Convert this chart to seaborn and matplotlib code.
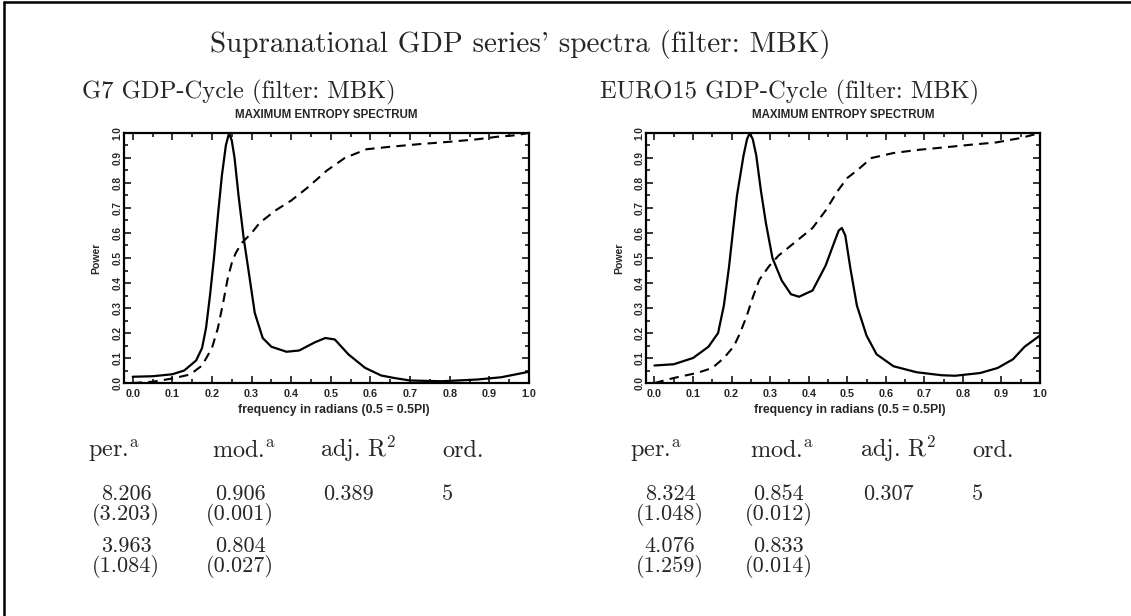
import numpy as np
import pandas as pd
import seaborn as sns
import matplotlib
matplotlib.use("Agg")
from matplotlib import pyplot as plt
from matplotlib.lines import Line2D
from matplotlib.ticker import MultipleLocator, FormatStrFormatter

# Spectrum G7 (linha cheia) e espectro acumulado (tracejado)
g7_freq = [0.0, 0.05, 0.10, 0.13, 0.16, 0.175, 0.185, 0.195, 0.205, 0.215, 0.225, 0.235, 0.243,
           0.25, 0.257, 0.267, 0.28, 0.295, 0.308, 0.328, 0.35, 0.388, 0.42, 0.46, 0.486, 0.51,
           0.544, 0.586, 0.627, 0.66, 0.70, 0.78, 0.87, 0.93, 1.0]
g7_power = [0.025, 0.027, 0.035, 0.05, 0.09, 0.14, 0.22, 0.35, 0.5, 0.67, 0.83, 0.95, 1.0,
            0.97, 0.9, 0.75, 0.58, 0.42, 0.28, 0.18, 0.145, 0.125, 0.13, 0.163, 0.18, 0.174,
            0.115, 0.061, 0.03, 0.02, 0.01, 0.007, 0.014, 0.023, 0.045]
g7_cum_freq = [0.0, 0.05, 0.10, 0.145, 0.175, 0.20, 0.215, 0.228, 0.24, 0.25, 0.26, 0.275, 0.30,
               0.32, 0.36, 0.40, 0.44, 0.49, 0.535, 0.59, 0.65, 0.72, 0.80, 0.87, 0.92, 0.96, 1.0]
g7_cum = [0.0, 0.005, 0.018, 0.034, 0.07, 0.14, 0.22, 0.32, 0.42, 0.48, 0.52, 0.56, 0.60,
          0.64, 0.69, 0.73, 0.78, 0.85, 0.90, 0.935, 0.945, 0.955, 0.965, 0.975, 0.985, 0.99, 1.0]

# Spectrum EURO15
eu_freq = [0.0, 0.05, 0.10, 0.14, 0.165, 0.18, 0.193, 0.203, 0.214, 0.231, 0.24, 0.247, 0.255,
           0.264, 0.276, 0.289, 0.306, 0.33, 0.354, 0.375, 0.41, 0.444, 0.468, 0.478, 0.486,
           0.495, 0.508, 0.525, 0.55, 0.576, 0.62, 0.68, 0.745, 0.78, 0.845, 0.89, 0.93, 0.96, 1.0]
eu_power = [0.07, 0.075, 0.10, 0.145, 0.2, 0.31, 0.46, 0.6, 0.75, 0.91, 0.975, 1.0, 0.975,
            0.91, 0.77, 0.64, 0.5, 0.41, 0.355, 0.345, 0.37, 0.47, 0.57, 0.61, 0.62,
            0.59, 0.46, 0.31, 0.19, 0.115, 0.067, 0.043, 0.031, 0.029, 0.04, 0.06, 0.095, 0.145, 0.19]
eu_cum_freq = [0.0, 0.05, 0.11, 0.15, 0.18, 0.206, 0.222, 0.239, 0.256, 0.272, 0.297, 0.322, 0.354,
               0.378, 0.41, 0.444, 0.476, 0.50, 0.525, 0.563, 0.62, 0.687, 0.755, 0.82, 0.885, 0.95, 1.0]
eu_cum = [0.0, 0.02, 0.04, 0.06, 0.10, 0.147, 0.2, 0.267, 0.347, 0.413, 0.467, 0.51, 0.55,
          0.58, 0.62, 0.69, 0.77, 0.82, 0.85, 0.9, 0.92, 0.933, 0.943, 0.953, 0.962, 0.98, 1.0]

# Tabelas
cabecalho = [r"per.$^{\mathrm{a}}$", r"mod.$^{\mathrm{a}}$", r"adj. R$^2$", "ord."]
g7_per = ["8.206", "(3.203)", "3.963", "(1.084)"]
g7_mod = ["0.906", "(0.001)", "0.804", "(0.027)"]
g7_r2, g7_ord = "0.389", "5"
eu_per = ["8.324", "(1.048)", "4.076", "(1.259)"]
eu_mod = ["0.854", "(0.012)", "0.833", "(0.014)"]
eu_r2, eu_ord = "0.307", "5"

W, H = 1131, 616
sns.set_theme(style="ticks")
plt.rcParams["font.family"] = ["Liberation Sans", "DejaVu Sans"]
plt.rcParams["font.weight"] = "bold"
plt.rcParams["mathtext.fontset"] = "cm"
plt.rcParams["axes.unicode_minus"] = False

fig = plt.figure(figsize=(W / 100, H / 100), dpi=100)
fig.patch.set_facecolor("white")

def fx(x):
    return x / W

def fy(y):
    return 1 - y / H

serif = ["cmr10", "DejaVu Serif"]

def painel(left, right, freq, power, cfreq, cum, titulo, tx):
    ax = fig.add_axes([fx(left), fy(383), fx(right - left), (383 - 133) / H])
    sns.lineplot(x=freq, y=power, ax=ax, color="black", lw=1.6, sort=False)
    sns.lineplot(x=cfreq, y=cum, ax=ax, color="black", lw=1.5, sort=False,
                 linestyle=(0, (4.5, 3)))
    ax.set_xlim(-0.022, 1.0)
    ax.set_ylim(0, 1.0)
    ax.xaxis.set_major_locator(MultipleLocator(0.1))
    ax.xaxis.set_minor_locator(MultipleLocator(0.05))
    ax.yaxis.set_major_locator(MultipleLocator(0.1))
    ax.yaxis.set_minor_locator(MultipleLocator(0.05))
    ax.xaxis.set_major_formatter(FormatStrFormatter("%.1f"))
    ax.yaxis.set_major_formatter(FormatStrFormatter("%.1f"))
    ax.tick_params(which="both", direction="in", top=True, right=True, color="black", width=1.1)
    ax.tick_params(which="major", length=5)
    ax.tick_params(which="minor", length=3)
    ax.tick_params(axis="x", labelsize=7.8, pad=4)
    ax.tick_params(axis="y", labelsize=7.2, pad=1, labelrotation=90)
    for lab in ax.get_yticklabels():
        lab.set_va("center")
        lab.set_fontweight("bold")
    for lab in ax.get_xticklabels():
        lab.set_fontweight("bold")
    for s in ax.spines.values():
        s.set_linewidth(1.6)
        s.set_color("black")
    ax.set_facecolor("white")
    ax.set_xlabel("frequency in radians (0.5 = 0.5PI)", fontsize=8.8, fontweight="bold")
    ax.xaxis.set_label_coords(0.518, -0.086)
    ax.set_ylabel("Power", fontsize=7.6, fontweight="bold")
    ax.yaxis.set_label_coords(-0.056, 0.5)
    ax.set_title("MAXIMUM ENTROPY SPECTRUM", fontsize=8.3, fontweight="bold", pad=11)
    fig.text(fx(tx), fy(98), titulo, family=serif, fontsize=17.7, va="baseline", ha="left")
    return ax

painel(124, 529, g7_freq, g7_power, g7_cum_freq, g7_cum, "G7 GDP-Cycle (filter: MBK)", 82)
painel(646, 1040, eu_freq, eu_power, eu_cum_freq, eu_cum, "EURO15 GDP-Cycle (filter: MBK)", 600)

fig.text(fx(520), fy(52), "Supranational GDP series' spectra (filter: MBK)", family=serif,
         fontsize=21, ha="center", va="baseline")

def tabela(cols, per, mod, r2, ordem, c1, c2):
    base = [500, 520, 552, 572]
    for x, txt in zip(cols, cabecalho):
        fig.text(fx(x), fy(457), txt, family=serif, fontsize=17.5, ha="left", va="baseline")
    for y, a, b in zip(base, per, mod):
        fig.text(fx(c1), fy(y), a, family=serif, fontsize=16, ha="center", va="baseline")
        fig.text(fx(c2), fy(y), b, family=serif, fontsize=16, ha="center", va="baseline")
    fig.text(fx(cols[2] + 3), fy(500), r2, family=serif, fontsize=16, ha="left", va="baseline")
    fig.text(fx(cols[3]), fy(500), ordem, family=serif, fontsize=16, ha="left", va="baseline")

tabela([88, 212, 320, 442], g7_per, g7_mod, g7_r2, g7_ord, 126, 240)
tabela([630, 750, 860, 972], eu_per, eu_mod, eu_r2, eu_ord, 670, 779)

# moldura da página (só esquerda e topo)
fig.add_artist(Line2D([fx(4), fx(4)], [0, fy(2)], color="black", lw=1.8))
fig.add_artist(Line2D([fx(4), 1], [fy(2), fy(2)], color="black", lw=1.8))

fig.savefig("out.png", dpi=100, facecolor="white")
